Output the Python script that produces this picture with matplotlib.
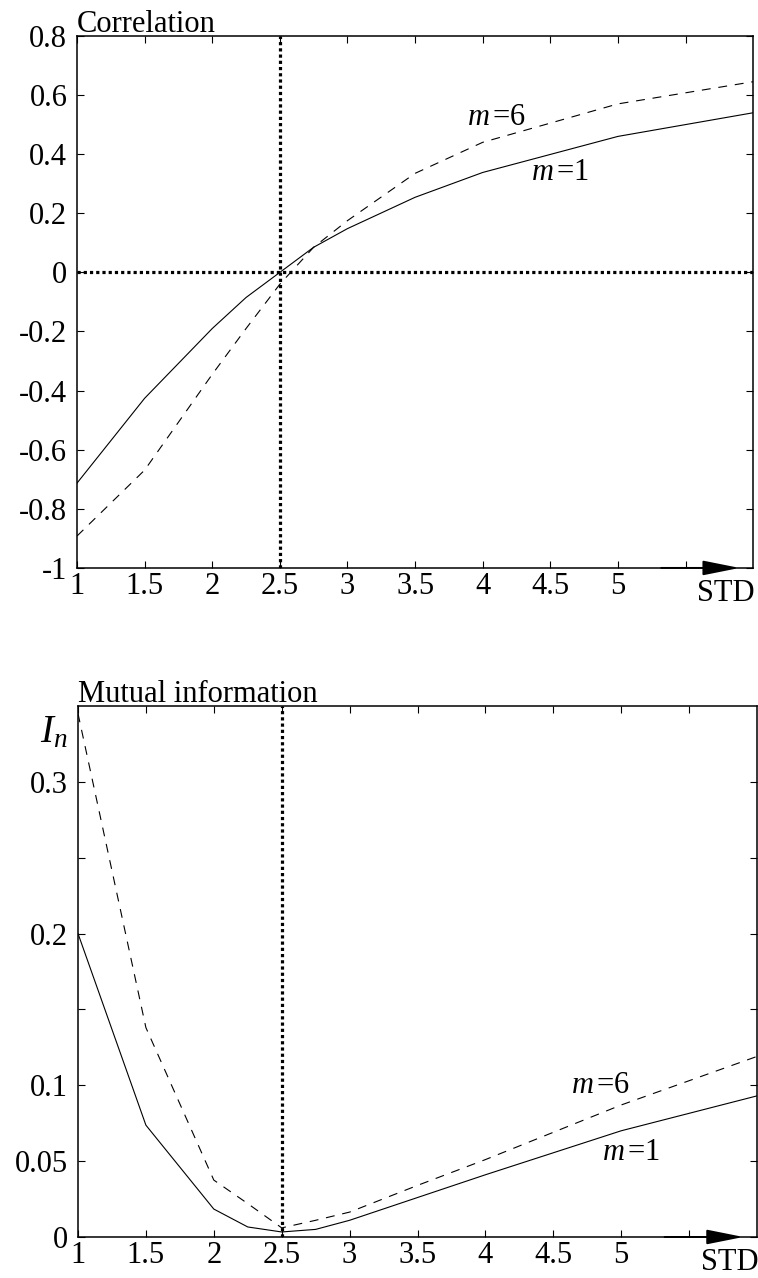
import numpy as np
import matplotlib
matplotlib.use("Agg")
import matplotlib.pyplot as plt

# STD values where the curves were sampled
std = [1, 1.5, 2, 2.25, 2.5, 2.75, 3, 3.5, 4, 5, 6]

# correlation, m=1 (solid) and m=6 (dashed)
corr_m1 = [-0.713, -0.426, -0.19, -0.085, 0.0, 0.085, 0.148, 0.254, 0.338, 0.46, 0.54]
corr_m6 = [-0.892, -0.669, -0.345, -0.19, -0.04, 0.085, 0.175, 0.335, 0.44, 0.57, 0.645]

# mutual information I_n
mi_m1 = [0.2, 0.0737, 0.0184, 0.0066, 0.0033, 0.005, 0.011, 0.026, 0.041, 0.070, 0.093]
mi_m6 = [0.345, 0.138, 0.0375, 0.022, 0.006, 0.011, 0.0164, 0.034, 0.051, 0.087, 0.119]

xticks = [1, 1.5, 2, 2.5, 3, 3.5, 4, 4.5, 5, 5.5]
xlabels = ['1', '1.5', '2', '2.5', '3', '3.5', '4', '4.5', '5', '']
corr_ticks = [-1, -0.8, -0.6, -0.4, -0.2, 0, 0.2, 0.4, 0.6, 0.8]
corr_labels = ['-1', '-0.8', '-0.6', '-0.4', '-0.2', '0', '0.2', '0.4', '0.6', '0.8']
mi_ticks = [0, 0.05, 0.1, 0.15, 0.2, 0.25, 0.3]
mi_labels = ['0', '0.05', '0.1', '', '0.2', '', '0.3']

plt.rcParams['font.family'] = ['Liberation Serif', 'DejaVu Serif']
plt.rcParams['mathtext.fontset'] = 'custom'
plt.rcParams['mathtext.rm'] = 'Liberation Serif'
plt.rcParams['mathtext.it'] = 'Liberation Serif:italic'

FS = 22
DOT = (0, (1, 0.95))
DASH = (0, (8, 7))


def style_axes(ax):
  ax.set_xlim(1, 6)
  ax.set_xticks(xticks)
  ax.set_xticklabels(xlabels)
  ax.tick_params(direction='in', length=5, width=0.8, top=True, right=True,
                 labelsize=FS)
  ax.tick_params(axis='x', pad=3)
  ax.tick_params(axis='y', pad=7)
  for s in ax.spines.values():
    s.set_linewidth(1.1)
  ax.annotate('', xy=(5.9, 0), xytext=(5.32, 0),
              xycoords=ax.get_xaxis_transform(), textcoords=ax.get_xaxis_transform(),
              arrowprops=dict(arrowstyle='-|>,head_length=0.9,head_width=0.18',
                              color='k', lw=1.4, mutation_scale=25,
                              shrinkA=0, shrinkB=0),
              annotation_clip=False)
  ax.text(5.8, -0.02, 'STD', transform=ax.get_xaxis_transform(),
          ha='center', va='top', fontsize=FS)


fig = plt.figure(figsize=(7.58, 12.78), dpi=100)

# correlation
ax1 = fig.add_axes([0.1016, 0.5556, 0.892, 0.4163])
ax1.plot(std, corr_m1, color='k', lw=0.8)
ax1.plot(std, corr_m6, color='k', lw=0.8, linestyle=DASH)
ax1.axvline(2.5, color='k', lw=2.3, linestyle=DOT)
ax1.axhline(0, color='k', lw=2.3, linestyle=DOT)
ax1.set_ylim(-1, 0.8)
ax1.set_yticks(corr_ticks)
ax1.set_yticklabels(corr_labels)
style_axes(ax1)
ax1.set_title('Correlation', loc='left', fontsize=FS, pad=3)
ax1.text(4.1, 0.525, r'$m\,$=6', ha='center', va='center', fontsize=FS)
ax1.text(4.57, 0.338, r'$m\,$=1', ha='center', va='center', fontsize=FS)

# mutual information
ax2 = fig.add_axes([0.1029, 0.0321, 0.8958, 0.4155])
ax2.plot(std, mi_m1, color='k', lw=0.8)
ax2.plot(std, mi_m6, color='k', lw=0.8, linestyle=DASH)
ax2.axvline(2.5, color='k', lw=2.3, linestyle=DOT)
ax2.set_ylim(0, 0.35)
ax2.set_yticks(mi_ticks)
ax2.set_yticklabels(mi_labels)
style_axes(ax2)
ax2.set_title('Mutual information', loc='left', fontsize=FS, pad=3)
ax2.text(-0.016, 0.332, '$I_n$', transform=ax2.get_yaxis_transform(),
         ha='right', va='center', fontsize=FS + 6)
ax2.text(4.85, 0.1, r'$m\,$=6', ha='center', va='center', fontsize=FS)
ax2.text(5.07, 0.056, r'$m\,$=1', ha='center', va='center', fontsize=FS)

fig.savefig('out.png', dpi=100)
